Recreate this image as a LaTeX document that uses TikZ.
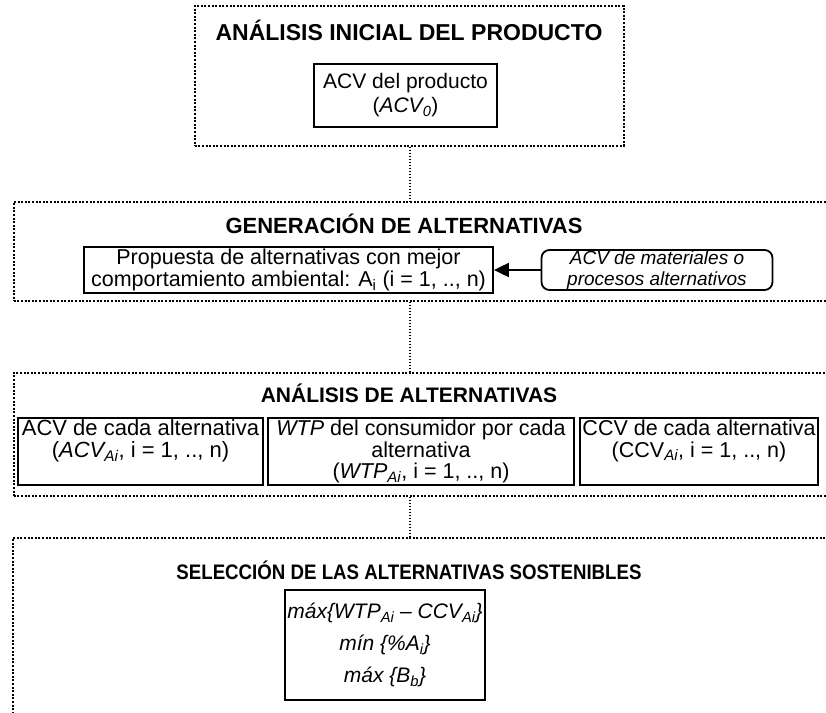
\documentclass[tikz,border=0pt]{standalone}
\usepackage{graphicx}
\usepackage{fontspec}
\setmainfont{Liberation Sans}
\usetikzlibrary{positioning}
\usetikzlibrary{arrows.meta}

\newcommand{\ssub}[1]{\textsubscript{\itshape #1}}

\tikzset{
  frame/.style={draw, dash pattern=on 2pt off 1.6pt, line width=1.6pt,
    anchor=north west, inner sep=0pt},
  title/.style={font=\fontsize{21}{25}\selectfont\bfseries},
  stage/.style={draw, line width=1.8pt, align=center, inner sep=0pt,
    font=\fontsize{21.5}{22}\selectfont},
  option/.style={stage, inner ysep=2pt, minimum height=67pt,
    font=\fontsize{21.5}{21.5}\selectfont},
  link/.style={dash pattern=on 1.5pt off 1.5pt, line width=1.2pt},
}

\begin{document}
\begin{tikzpicture}[x=1pt,y=-1pt]
\useasboundingbox (0,0) rectangle (826,712);
\clip (0,0) rectangle (826,712);

% dotted frames
\node[frame, minimum width=429pt, minimum height=140pt] (inicial) at (194,5) {};
\node[frame, minimum width=830pt, minimum height=99pt] (generacion) at (13,201) {};
\node[frame, minimum width=830pt, minimum height=123pt] (analisis) at (13,372) {};
\node[frame, minimum width=830pt, minimum height=200pt] (seleccion) at (12,537) {};

% frame titles
\node[title, font=\fontsize{23}{25}\selectfont\bfseries] (t1) at (409,30)
  {ANÁLISIS INICIAL DEL PRODUCTO};
\node[title, font=\fontsize{22}{25}\selectfont\bfseries] (t2) at (404,224)
  {GENERACIÓN DE ALTERNATIVAS};
\node[title] (t3) at (409,393) {ANÁLISIS DE ALTERNATIVAS};
\node[title] (t4) at (409,570)
  {\scalebox{0.89}[1]{SELECCIÓN DE LAS ALTERNATIVAS SOSTENIBLES}};

% stage 1
\node[stage, minimum width=183pt, minimum height=63pt,
  font=\fontsize{21}{24}\selectfont] (acv0) at (405.5,95.5)
  {ACV del producto\\(\textit{ACV\ssub{0}})};

% stage 2
\node[stage, minimum width=409pt, minimum height=46pt] (propuesta) at (288.5,270)
  {Propuesta de alternativas con mejor\\comportamiento ambiental: A\textsubscript{i} (i = 1, .., n)};
\node[stage, rounded corners=8pt, minimum width=231pt, minimum height=40pt,
  font=\fontsize{19}{21}\selectfont\itshape] (materiales) at (657,270)
  {ACV de materiales o\\procesos alternativos};
\draw[line width=2pt, -{Triangle[length=15pt,width=14pt]}] (materiales) -- (propuesta);

% stage 3
\node[option, minimum width=245pt, font=\fontsize{22}{21.5}\selectfont] (acvai) at (140.5,451.5)
  {ACV de cada alternativa\\(\textit{ACV\ssub{Ai}}, i = 1, .., n)\\\vphantom{(}};
\node[option, minimum width=306pt] (wtpai) at (421,451.5)
  {\textit{WTP} del consumidor por cada\\alternativa\\(\textit{WTP\ssub{Ai}}, i = 1, .., n)};
\node[option, minimum width=238pt] (ccvai) at (699,451.5)
  {CCV de cada alternativa\\(CCV\ssub{Ai}, i = 1, .., n)\\\vphantom{(}};

% stage 4
\node[stage, minimum width=200pt, minimum height=110pt,
  font=\fontsize{21}{32}\selectfont\itshape] (objetivos) at (385,645)
  {máx\{WTP\ssub{Ai} – CCV\ssub{Ai}\}\\mín \{\%A\ssub{i}\}\\máx \{B\ssub{b}\}};

% dotted links between frames
\foreach \a/\b in {inicial/generacion,generacion/analisis,analisis/seleccion}
\draw[link] (\a.south -| 410,0) -- (\b.north -| 410,0);
\end{tikzpicture}
\end{document}
